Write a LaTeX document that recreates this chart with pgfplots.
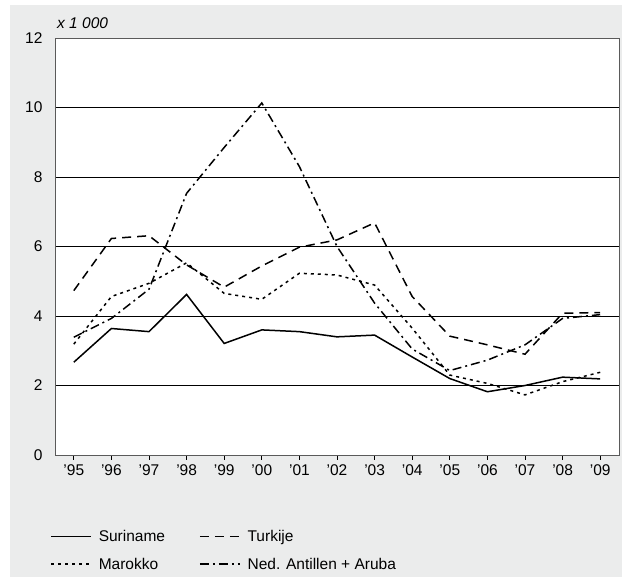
\documentclass[border=0pt]{standalone}
\usepackage{fontspec}
\setmainfont{Liberation Sans}
\usepackage{pgfplots}
\pgfplotsset{compat=1.18}
\definecolor{panel}{RGB}{235,236,236}
\definecolor{frame}{RGB}{90,90,90}
\begin{document}%
\begin{tikzpicture}[font=\fontsize{15.5bp}{18bp}\selectfont]
\fill[white] (0bp,0bp) rectangle (622bp,577bp);
\fill[panel] (10bp,0bp) rectangle (622bp,572bp);
\begin{axis}[
  at={(55bp,122bp)}, anchor=south west,
  scale only axis, width=564bp, height=417bp,
  xmin=-0.5, xmax=14.5, ymin=0, ymax=12,
  xtick={0,...,14},
  xticklabels={'95,'96,'97,'98,'99,'00,'01,'02,'03,'04,'05,'06,'07,'08,'09},
  ytick={0,2,4,6,8,10,12},
  /pgf/number format/assume math mode=true,
  ymajorgrids, grid style={black, line width=0.8bp},
  axis background/.style={fill=white},
  axis line style={draw=frame, line width=0.9bp},
  xtick pos=bottom, ytick pos=left,
  tick align=outside, major tick length=5bp,
  xtick style={draw=black, line width=0.8bp},
  ytick style={draw=none},
  tick label style={font=\fontsize{15.5bp}{18bp}\selectfont},
  yticklabel style={xshift=-4bp},
  xticklabel style={yshift=-1bp},
  legend columns=2,
  legend style={at={(-0.014,-0.17)}, anchor=north west, draw=none, fill=none,
    font=\fontsize{15.5bp}{18bp}\selectfont, row sep=11bp,
    /tikz/every odd column/.append style={column sep=5bp},
    /tikz/every even column/.append style={column sep=32bp}},
  legend cell align=left,
  legend image code/.code={\draw[#1] (0bp,0bp) -- (40bp,0bp);},
  every axis plot/.append style={line width=1.5bp, black},
  clip=false,
]
\addplot[solid] coordinates {(0,2.67) (1,3.64) (2,3.55) (3,4.62) (4,3.21) (5,3.60) (6,3.55) (7,3.40) (8,3.45) (9,2.82) (10,2.20) (11,1.82) (12,2.00) (13,2.24) (14,2.19)};
\addlegendentry{Suriname}
\addplot[dash pattern=on 9bp off 6bp] coordinates {(0,4.73) (1,6.23) (2,6.31) (3,5.47) (4,4.83) (5,5.44) (6,5.98) (7,6.19) (8,6.68) (9,4.56) (10,3.42) (11,3.17) (12,2.90) (13,4.08) (14,4.10)};
\addlegendentry{Turkije}
\addplot[dash pattern=on 3bp off 4bp] coordinates {(0,3.19) (1,4.56) (2,4.94) (3,5.53) (4,4.65) (5,4.48) (6,5.23) (7,5.18) (8,4.89) (9,3.65) (10,2.30) (11,2.06) (12,1.73) (13,2.11) (14,2.38)};
\addlegendentry{Marokko}
\addplot[dash pattern=on 9bp off 4bp on 2bp off 4bp] coordinates {(0,3.39) (1,3.93) (2,4.77) (3,7.53) (4,8.85) (5,10.13) (6,8.30) (7,6.00) (8,4.37) (9,3.05) (10,2.43) (11,2.73) (12,3.17) (13,3.93) (14,4.04)};
\addlegendentry{Ned. Antillen + Aruba}
\node[anchor=base west, inner sep=0pt, font=\itshape\fontsize{15.5bp}{18bp}\selectfont] at (rel axis cs:0,1) [xshift=2bp, yshift=9bp] {x 1 000};
\end{axis}
\end{tikzpicture}%
\end{document}
